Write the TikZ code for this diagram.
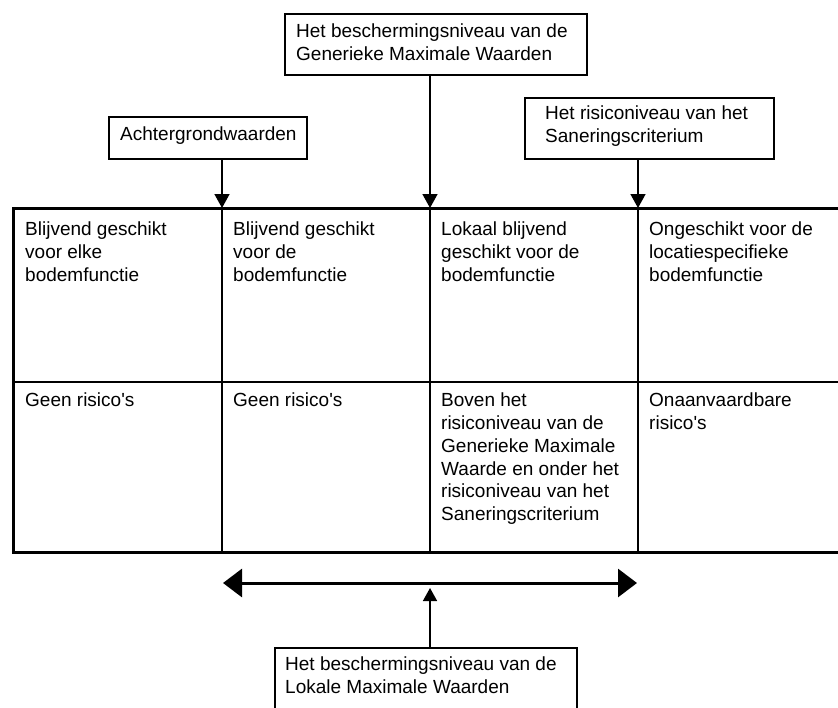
\documentclass[tikz,border=0pt]{standalone}
\usepackage{fontspec}
\setmainfont{Liberation Sans}
\usetikzlibrary{arrows.meta}
\tikzset{
  thin line/.style={line width=1.5pt},
  thick line/.style={line width=3pt},
  boxnode/.style={draw, line width=1.5pt, inner sep=0pt, anchor=north west},
  lbl/.style={anchor=north west, inner sep=0pt, align=left, font={\fontsize{19}{22.7}\selectfont}},
  downarr/.style={line width=1.5pt, -{Triangle[width=15pt,length=14pt]}},
  uparr/.style={line width=1.5pt, -{Triangle[width=14pt,length=13pt]}},
  wide/.style={line width=3pt, {Triangle[width=28pt,length=19pt]}-{Triangle[width=28pt,length=19pt]}}
}
\begin{document}
\begin{tikzpicture}[x=1pt,y=-1pt]
\useasboundingbox (0,0) rectangle (838,707);
% table grid
\coordinate (tl) at (13,208);
\coordinate (tr) at (838,208);
\coordinate (bl) at (13,552);
\coordinate (br) at (838,552);
\coordinate (ml) at (13,382);
\coordinate (mr) at (838,382);
\coordinate (t2) at (222,208);
\coordinate (t3) at (430,208);
\coordinate (t4) at (638,208);
\coordinate (b2) at (222,552);
\coordinate (b3) at (430,552);
\coordinate (b4) at (638,552);
\draw[thin line] (ml) -- (mr);
\draw[thin line] (t2) -- (b2);
\draw[thin line] (t3) -- (b3);
\draw[thin line] (t4) -- (b4);
\draw[thick line] (tr) -- (tl) -- (bl) -- (br);
% cell texts
\node[lbl] (r1c1) at (25,222) {Blijvend geschikt\\voor elke\\bodemfunctie};
\node[lbl] (r1c2) at (233,222) {Blijvend geschikt\\voor de\\bodemfunctie};
\node[lbl] (r1c3) at (441,222) {Lokaal blijvend\\geschikt voor de\\bodemfunctie};
\node[lbl] (r1c4) at (649,222) {Ongeschikt voor de\\locatiespecifieke\\bodemfunctie};
\node[lbl] (r2c1) at (25,393) {Geen risico\textquotesingle s};
\node[lbl] (r2c2) at (233,393) {Geen risico\textquotesingle s};
\node[lbl] (r2c3) at (441,393) {Boven het\\risiconiveau van de\\Generieke Maximale\\Waarde en onder het\\risiconiveau van het\\Saneringscriterium};
\node[lbl] (r2c4) at (649,393) {Onaanvaardbare\\risico\textquotesingle s};
% top boxes
\node[boxnode, minimum width=302pt, minimum height=61pt] (gmw) at (284,13) {};
\node[lbl] (gmwt) at (296,24) {Het beschermingsniveau van de\\Generieke Maximale Waarden};
\node[boxnode, minimum width=249pt, minimum height=61pt] (sc) at (524,97) {};
\node[lbl] (sct) at (545,106) {Het risiconiveau van het\\Saneringscriterium};
\node[boxnode, minimum width=198pt, minimum height=42pt] (ach) at (108,116) {};
\node[lbl] (acht) at (120,127) {Achtergrondwaarden};
% bottom box
\node[boxnode, minimum width=302pt, minimum height=70pt] (lmw) at (274,647) {};
\node[lbl] (lmwt) at (285,657) {Het beschermingsniveau van de\\Lokale Maximale Waarden};
% connectors
\draw[downarr] (ach.south -| t2) -- (t2);
\draw[downarr] (gmw.south -| t3) -- (t3);
\draw[downarr] (sc.south -| t4) -- (t4);
\coordinate (hl) at (223,583);
\coordinate (hr) at (637,583);
\coordinate (hm) at (430,588);
\draw[wide] (hl) -- (hr);
\draw[uparr] (lmw.north -| hm) -- (hm);
\end{tikzpicture}
\end{document}
